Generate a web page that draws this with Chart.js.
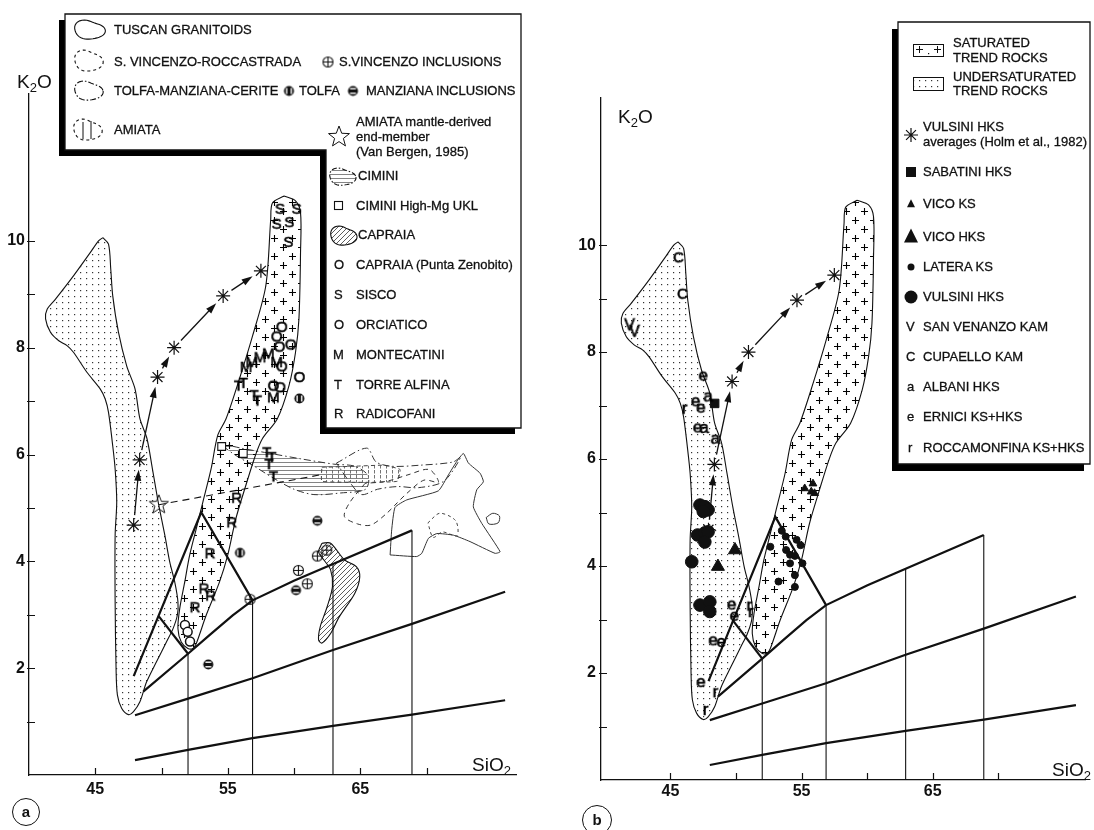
<!DOCTYPE html>
<html>
<head>
<meta charset="utf-8">
<title>K2O vs SiO2</title>
<script src="https://cdn.jsdelivr.net/npm/chart.js@4.4.0/dist/chart.umd.min.js"></script>
<style>
  body { margin: 0; background: #fff; }
  #wrap { position: relative; width: 1094px; height: 830px; overflow: hidden; font-family: "Liberation Sans", Arial, sans-serif; color: #111; }
  .pane { position: absolute; top: 0; height: 830px; }
  #paneA { left: 0; width: 545px; }
  #paneB { left: 545px; width: 549px; }
  .t { position: absolute; font-size: 13px; line-height: 14px; white-space: nowrap; transform: translateY(-50%); pointer-events: none; -webkit-text-stroke: 0.3px #111; }
  .ax { position: absolute; font-size: 19px; line-height: 20px; white-space: nowrap; transform: translateY(-50%); pointer-events: none; }
  .ax sub { font-size: 13px; vertical-align: -4px; line-height: 0; }
  .tag { position: absolute; border: 1.4px solid #111; border-radius: 50%; font-weight: bold; font-size: 15px; text-align: center; box-sizing: border-box; }
</style>
</head>
<body>
<div id="wrap">
  <div class="pane" id="paneA"><canvas id="chartA"></canvas></div>
  <div class="pane" id="paneB"><canvas id="chartB"></canvas></div>

  <!-- panel a texts -->
  <div class="ax" style="left:17px;top:82px">K<sub>2</sub>O</div>
  <div class="ax" style="left:472px;top:765px">SiO<sub>2</sub></div>
  <div class="tag" style="left:12px;top:798px;width:28px;height:28px;line-height:25px">a</div>

  <div class="t" style="left:114px;top:30px">TUSCAN GRANITOIDS</div>
  <div class="t" style="left:114px;top:62px">S. VINCENZO-ROCCASTRADA</div>
  <div class="t" style="left:339px;top:62px">S.VINCENZO INCLUSIONS</div>
  <div class="t" style="left:114px;top:91px">TOLFA-MANZIANA-CERITE</div>
  <div class="t" style="left:299px;top:91px">TOLFA</div>
  <div class="t" style="left:366px;top:91px">MANZIANA INCLUSIONS</div>
  <div class="t" style="left:114px;top:130px">AMIATA</div>
  <div class="t" style="left:356px;top:122px">AMIATA mantle-derived</div>
  <div class="t" style="left:356px;top:137px">end-member</div>
  <div class="t" style="left:356px;top:152px">(Van Bergen, 1985)</div>
  <div class="t" style="left:358px;top:176px">CIMINI</div>
  <div class="t" style="left:356px;top:206px">CIMINI High-Mg UKL</div>
  <div class="t" style="left:358px;top:235px">CAPRAIA</div>
  <div class="t" style="left:334px;top:265px">O</div>
  <div class="t" style="left:356px;top:265px">CAPRAIA (Punta Zenobito)</div>
  <div class="t" style="left:334px;top:295px">S</div>
  <div class="t" style="left:356px;top:295px">SISCO</div>
  <div class="t" style="left:334px;top:325px">O</div>
  <div class="t" style="left:356px;top:325px">ORCIATICO</div>
  <div class="t" style="left:333px;top:355px">M</div>
  <div class="t" style="left:356px;top:355px">MONTECATINI</div>
  <div class="t" style="left:334px;top:385px">T</div>
  <div class="t" style="left:356px;top:385px">TORRE ALFINA</div>
  <div class="t" style="left:334px;top:414px">R</div>
  <div class="t" style="left:356px;top:414px">RADICOFANI</div>

  <!-- panel b texts -->
  <div class="ax" style="left:618px;top:117px">K<sub>2</sub>O</div>
  <div class="ax" style="left:1052px;top:770px">SiO<sub>2</sub></div>
  <div class="tag" style="left:582px;top:805px;width:30px;height:30px;line-height:27px">b</div>

  <div class="t" style="left:953px;top:43px">SATURATED</div>
  <div class="t" style="left:953px;top:58px">TREND ROCKS</div>
  <div class="t" style="left:953px;top:77px">UNDERSATURATED</div>
  <div class="t" style="left:953px;top:91px">TREND ROCKS</div>
  <div class="t" style="left:923px;top:127px">VULSINI HKS</div>
  <div class="t" style="left:923px;top:142px">averages (Holm et al., 1982)</div>
  <div class="t" style="left:923px;top:172px">SABATINI HKS</div>
  <div class="t" style="left:923px;top:204px">VICO KS</div>
  <div class="t" style="left:923px;top:237px">VICO HKS</div>
  <div class="t" style="left:923px;top:267px">LATERA KS</div>
  <div class="t" style="left:923px;top:297px">VULSINI HKS</div>
  <div class="t" style="left:906px;top:327px">V</div>
  <div class="t" style="left:923px;top:327px">SAN VENANZO KAM</div>
  <div class="t" style="left:906px;top:357px">C</div>
  <div class="t" style="left:923px;top:357px">CUPAELLO KAM</div>
  <div class="t" style="left:907px;top:387px">a</div>
  <div class="t" style="left:923px;top:387px">ALBANI HKS</div>
  <div class="t" style="left:907px;top:417px">e</div>
  <div class="t" style="left:923px;top:417px">ERNICI KS+HKS</div>
  <div class="t" style="left:908px;top:448px">r</div>
  <div class="t" style="left:923px;top:448px">ROCCAMONFINA KS+HKS</div>
</div>

<script>
// axis ticks (SiO2 wt%, K2O wt%)
const xTicks = [45, 50, 55, 60, 65, 70];
const xTickLabels = [45, 55, 65];
const yTicks = [1, 2, 3, 4, 5, 6, 7, 8, 9, 10];
const yTickLabels = [2, 4, 6, 8, 10];

// trend fields, shared by both panels: [SiO2, K2O]
const underSatField = [
  [45.57, 10.06], [46.0, 9.94], [46.17, 9.47], [46.32, 8.97], [46.75, 8.29], [47.37, 7.66],
  [48.0, 7.23], [48.37, 6.67], [48.9, 6.3], [49.3, 5.75], [49.75, 5.11], [50.25, 4.49],
  [50.62, 3.99], [51.0, 3.61], [51.24, 3.24], [51.2, 3.0], [50.87, 2.74], [50.37, 2.49],
  [49.62, 2.12], [48.87, 1.74], [48.37, 1.37], [47.87, 1.18], [47.5, 1.13], [46.99, 1.25],
  [46.67, 1.5], [46.57, 1.99], [46.5, 3.24], [46.5, 4.49], [46.62, 5.11], [46.5, 5.73],
  [46.3, 6.2], [46.0, 6.79], [45.75, 7.04], [45.37, 7.23], [44.37, 7.54], [43.37, 7.91],
  [42.87, 8.04], [42.25, 8.13], [41.62, 8.29], [41.25, 8.54], [41.37, 8.72], [42.0, 8.91],
  [43.37, 9.35], [44.62, 9.78], [45.25, 10.0]
];
const satField = [
  [59.24, 10.84], [60.11, 10.75], [60.49, 10.53], [60.49, 9.78], [60.37, 8.54], [60.11, 7.91],
  [59.62, 7.29], [58.74, 6.67], [57.62, 6.3], [57.11, 6.0], [56.36, 5.42], [55.61, 4.8],
  [54.99, 4.11], [54.37, 3.61], [53.37, 2.99], [52.62, 2.46], [52.37, 2.37], [51.99, 2.37],
  [51.49, 2.49], [51.24, 2.74], [51.37, 3.11], [51.75, 3.61], [52.12, 4.11], [52.62, 4.61],
  [53.12, 5.11], [53.74, 5.73], [54.24, 6.36], [54.87, 6.67], [55.87, 7.41], [56.87, 8.22],
  [57.87, 9.16], [58.24, 10.4], [58.37, 10.71]
];

// K2O-SiO2 classification grid
const gridUpper = [[48.62, 1.56], [52.0, 2.27], [53.62, 2.62], [55.37, 2.99], [56.87, 3.27], [60.03, 3.64], [62.94, 3.95], [68.9, 4.58]];
const gridMiddle = [[48.0, 1.12], [52.0, 1.43], [56.87, 1.81], [62.94, 2.34], [68.9, 2.83], [75.93, 3.43]];
const gridLower = [[48.0, 0.28], [52.0, 0.47], [56.87, 0.69], [62.94, 0.92], [68.9, 1.13], [75.93, 1.40]];
const gridWedge = [[47.9, 1.85], [53.0, 4.92], [56.87, 3.27]];
const gridWedgeBase = [[49.8, 2.97], [52.0, 2.27]];
const dividerSiO2 = [52.0, 56.87, 62.94, 68.9];
const dividerTopK2O = [2.27, 3.27, 3.95, 4.58];

// Vulsini HKS averages (Holm et al., 1982)
const vulsiniAverages = [[47.9, 4.68], [48.35, 5.9], [49.7, 7.45], [50.95, 8.0], [54.65, 8.97], [57.5, 9.44]];

// panel a: Tuscan province
const siscoPts = [[58.94, 10.61], [60.2, 10.61], [58.69, 10.33], [59.64, 10.36], [59.57, 9.99]];
const orciaticoPts = [[59.07, 8.4], [58.69, 8.22], [58.89, 8.03], [59.75, 8.07], [59.07, 7.66], [58.44, 7.3], [58.94, 7.27], [60.4, 7.46]];
const montecatiniPts = [[56.38, 7.65], [56.81, 7.74], [57.43, 7.83], [58.06, 7.9], [58.69, 7.74], [58.44, 7.08]];
const torreAlfinaPts = [[55.8, 7.3], [56.17, 7.35], [56.98, 7.12], [57.23, 7.02], [57.94, 6.05], [58.32, 5.96], [58.1, 5.83], [58.44, 5.6]];
const radicofaniPts = [[55.67, 5.2], [55.3, 4.74], [53.66, 4.16], [53.21, 3.5], [53.71, 3.37], [52.53, 3.15]];
const zenobitoPts = [[51.77, 2.81], [51.97, 2.68], [52.15, 2.5]];
const ciminiUklPts = [[54.54, 6.15], [56.17, 6.02]];
const vincenzoInclPts = [[62.47, 4.21], [61.76, 4.1], [60.33, 3.83], [61.0, 3.58], [56.68, 3.29]];
const tolfaPts = [[55.92, 4.16], [60.4, 7.05]];
const manzianaInclPts = [[61.76, 4.76], [60.15, 3.46], [53.53, 2.07]];
const amiataEndMember = [[49.8, 5.06]];
const amiataTieLine = [[49.8, 5.06], [62.0, 5.62]];
const capraiaField = [[62.11, 4.34], [62.76, 4.34], [63.8, 4.03], [64.7, 3.9], [64.96, 3.71], [64.58, 3.4], [63.41, 2.96], [62.76, 2.65], [62.11, 2.47], [61.85, 2.53], [61.98, 2.78], [62.5, 3.15], [62.9, 3.53], [62.76, 3.84], [62.24, 4.03], [61.85, 4.18]];
const tuscanField = [[67.25, 4.12], [67.37, 4.59], [67.62, 5.01], [68.5, 5.15], [70.89, 5.32], [71.65, 5.62], [72.28, 5.87], [72.78, 6.02], [73.16, 5.84], [74.04, 5.65], [74.29, 5.49], [73.79, 5.34], [73.53, 5.02], [74.17, 4.71], [75.55, 4.18], [75.17, 4.15], [73.28, 4.37], [72.03, 4.49], [70.77, 4.52], [70.14, 4.43], [69.64, 4.15], [69.26, 4.09]];
const tuscanSmall = [[74.5, 4.82], [75.0, 4.9], [75.5, 4.85], [75.4, 4.72], [74.7, 4.7]];
const vincenzoField = [[65.36, 5.46], [64.2, 5.1], [63.8, 4.84], [64.8, 4.7], [65.8, 4.68], [67.0, 4.9], [67.8, 5.1], [68.5, 5.27], [69.8, 5.52], [70.9, 5.48], [70.2, 5.72], [68.6, 5.62], [67.0, 5.5]];
const vincenzoSmall = [[70.1, 4.72], [71.0, 4.9], [72.2, 4.76], [72.3, 4.48], [71.2, 4.55], [70.5, 4.45]];
const tolfaField = [[63.2, 5.84], [65.48, 6.12], [66.2, 5.86], [67.4, 5.78], [69.5, 5.8], [72.0, 5.86], [72.6, 5.96], [71.3, 5.5], [69.4, 5.38], [67.8, 5.4], [66.3, 5.35], [65.1, 5.25], [64.3, 5.45]];
const ciminiField = [[54.3, 6.22], [56.0, 6.12], [58.0, 6.03], [60.5, 5.92], [63.0, 5.82], [64.6, 5.78], [65.6, 5.6], [65.4, 5.35], [63.5, 5.28], [61.5, 5.25], [60.0, 5.35], [58.5, 5.55], [57.0, 5.78], [55.5, 6.0]];
const amiataField = [[62.1, 5.76], [64.5, 5.78], [66.8, 5.8], [68.0, 5.72], [67.8, 5.5], [65.5, 5.48], [62.1, 5.5]];

// panel b: Roman province
const cupaelloPts = [[45.62, 9.78], [45.92, 9.1]];
const venanzoPts = [[41.87, 8.5], [42.25, 8.38]];
const erniciPts = [[47.5, 7.57], [46.92, 7.09], [47.32, 6.97], [47.07, 6.6], [49.67, 3.29], [49.87, 3.08], [48.25, 2.62], [48.87, 2.59], [47.32, 1.84]];
const albaniPts = [[47.87, 7.18], [47.57, 6.59], [48.42, 6.39]];
const roccamonfinaPts = [[46.07, 6.95], [51.0, 3.27], [51.12, 3.15], [48.42, 1.65], [47.67, 1.32]];
const sabatiniPts = [[48.37, 7.04]];
const vicoKsPts = [[55.87, 5.54], [55.24, 5.45], [55.74, 5.39], [55.99, 5.36]];
const vicoHksPts = [[49.92, 4.3], [48.62, 3.99]];
const lateraPts = [[53.49, 4.66], [53.79, 4.55], [54.62, 4.49], [54.92, 4.39], [52.62, 4.36], [53.82, 4.3], [54.12, 4.21], [54.49, 4.19], [54.12, 4.05], [55.07, 4.05], [54.49, 3.83], [53.24, 3.71], [54.49, 3.61]];
const vulsiniHksPts = [[47.25, 5.14], [47.62, 5.11], [47.87, 5.05], [47.5, 5.02], [47.07, 4.58], [47.62, 4.62], [47.87, 4.64], [47.62, 4.45], [46.62, 4.08], [47.25, 3.27], [48.0, 3.33], [48.0, 3.15]];

// ---------- fills and marker glyphs ----------
function tile(w, h, paint) {
  const c = document.createElement('canvas');
  c.width = w; c.height = h;
  const g = c.getContext('2d');
  paint(g);
  return g.createPattern(c, 'repeat');
}
const dotFill = tile(6, 6, g => { g.fillStyle = '#333'; g.fillRect(2, 2, 1.2, 1.2); });
const crossFill = tile(18, 18, g => {
  g.strokeStyle = '#000'; g.lineWidth = 1.1;
  [[4.5, 4.5], [13.5, 13.5]].forEach(([cx, cy]) => {
    g.beginPath();
    g.moveTo(cx - 3.5, cy); g.lineTo(cx + 3.5, cy);
    g.moveTo(cx, cy - 3.5); g.lineTo(cx, cy + 3.5);
    g.stroke();
  });
});
const hatchFill = tile(5, 5, g => {
  g.strokeStyle = '#333'; g.lineWidth = 0.8;
  g.beginPath(); g.moveTo(-1, 6); g.lineTo(6, -1); g.stroke();
});
const ciminiFill = tile(6, 4, g => { g.fillStyle = '#666'; g.fillRect(0, 2, 6, 0.8); });
const amiataFill = tile(6, 5, g => { g.fillStyle = '#666'; g.fillRect(2, 0, 0.9, 3.5); });

function glyph(w, h, paint) {
  const c = document.createElement('canvas');
  c.width = w; c.height = h;
  paint(c.getContext('2d'), w / 2, h / 2);
  return c;
}
function letter(ch, size) {
  return glyph(size + 6, size + 8, (g, cx, cy) => {
    g.font = size + 'px "Liberation Sans", Arial, sans-serif';
    g.fillStyle = '#000'; g.strokeStyle = '#000'; g.lineWidth = 0.6;
    g.textAlign = 'center'; g.textBaseline = 'middle';
    g.fillText(ch, cx, cy + 1);
    g.strokeText(ch, cx, cy + 1);
  });
}
const circlePlus = glyph(13, 13, (g, cx, cy) => {
  g.strokeStyle = '#111'; g.lineWidth = 1.1;
  g.beginPath(); g.arc(cx, cy, 5, 0, Math.PI * 2);
  g.moveTo(cx - 5, cy); g.lineTo(cx + 5, cy); g.moveTo(cx, cy - 5); g.lineTo(cx, cy + 5);
  g.stroke();
});
const tolfaMark = glyph(13, 13, (g, cx, cy) => {
  g.fillStyle = '#111'; g.beginPath(); g.arc(cx, cy, 5, 0, Math.PI * 2); g.fill();
  g.fillStyle = '#fff'; g.fillRect(cx - 3, cy - 3, 1.4, 6); g.fillRect(cx + 1.6, cy - 3, 1.4, 6);
});
const manzianaMark = glyph(13, 13, (g, cx, cy) => {
  g.fillStyle = '#111'; g.beginPath(); g.arc(cx, cy, 5, 0, Math.PI * 2); g.fill();
  g.fillStyle = '#fff'; g.fillRect(cx - 3, cy - 3, 6, 1.4); g.fillRect(cx - 3, cy + 1.6, 6, 1.4);
});
function starOutline(r) {
  return glyph(2 * r + 4, 2 * r + 4, (g, cx, cy) => {
    g.strokeStyle = '#111'; g.lineWidth = 1; g.beginPath();
    for (let i = 0; i < 10; i++) {
      const a = -Math.PI / 2 + i * Math.PI / 5, rr = i % 2 ? r * 0.42 : r;
      const px = cx + Math.cos(a) * rr, py = cy + Math.sin(a) * rr;
      i ? g.lineTo(px, py) : g.moveTo(px, py);
    }
    g.closePath(); g.stroke();
  });
}
const amiataStar = starOutline(10);
const legendStar = starOutline(11);

// ---------- dataset builders ----------
const xy = list => list.map(([x, y]) => ({ x, y }));
function field(list, fillStyle, extra) {
  return Object.assign({
    type: 'line', data: xy(list.concat([list[0]])), borderColor: '#111', borderWidth: 1.1,
    pointRadius: 0, tension: 0.3, fill: fillStyle ? 'shape' : false,
    backgroundColor: fillStyle || 'rgba(0,0,0,0)'
  }, extra || {});
}
function path(list, width, extra) {
  return Object.assign({
    type: 'line', data: xy(list), borderColor: '#111', borderWidth: width,
    pointRadius: 0, tension: 0, fill: false
  }, extra || {});
}
function marks(list, style, extra) {
  return Object.assign({
    type: 'scatter', data: xy(list), pointStyle: style, pointRadius: 5,
    pointBackgroundColor: '#111', pointBorderColor: '#111', pointBorderWidth: 1
  }, extra || {});
}
function sharedLayers() {
  return [
    marks(vulsiniAverages, 'star', { pointRadius: 7, pointBorderWidth: 1.2 }),
    path(gridUpper, 2.2), path(gridMiddle, 2.2), path(gridLower, 2.2),
    path(gridWedge, 2.2), path(gridWedgeBase, 2.2),
    ...dividerSiO2.map((s, i) => path([[s, dividerTopK2O[i]], [s, 0]], 1.1)),
    field(satField, crossFill),
    field(underSatField, dotFill)
  ];
}

const datasetsA = [
  marks(siscoPts, letter('S', 15)),
  marks(orciaticoPts, letter('O', 15)),
  marks(montecatiniPts, letter('M', 15)),
  marks(torreAlfinaPts, letter('T', 15)),
  marks(radicofaniPts, letter('R', 15)),
  marks(zenobitoPts, 'circle', { pointRadius: 4.5, pointBackgroundColor: '#fff', pointBorderWidth: 1.5 }),
  marks(ciminiUklPts, 'rect', { pointRadius: 5.5, pointBackgroundColor: '#fff', pointBorderWidth: 1.1 }),
  marks(vincenzoInclPts, circlePlus),
  marks(tolfaPts, tolfaMark),
  marks(manzianaInclPts, manzianaMark),
  marks(amiataEndMember, amiataStar),
  ...sharedLayers(),
  path(amiataTieLine, 1.1, { borderDash: [7, 5] }),
  field(capraiaField, hatchFill),
  field(tuscanField, null, { borderColor: '#333', borderWidth: 1, tension: 0.15 }),
  field(tuscanSmall, null, { borderColor: '#333', borderWidth: 1 }),
  field(vincenzoField, null, { borderColor: '#333', borderWidth: 1, borderDash: [5, 4] }),
  field(vincenzoSmall, null, { borderColor: '#444', borderWidth: 1, borderDash: [3, 3] }),
  field(tolfaField, null, { borderColor: '#333', borderWidth: 1, borderDash: [7, 3, 1.5, 3] }),
  field(amiataField, amiataFill, { borderColor: '#444', borderWidth: 1, borderDash: [4, 3], tension: 0.1 }),
  field(ciminiField, ciminiFill, { borderColor: '#333', borderWidth: 1, borderDash: [7, 3, 1.5, 3] })
];

const datasetsB = [
  marks(cupaelloPts, letter('C', 15)),
  marks(venanzoPts, letter('V', 16)),
  marks(erniciPts, letter('e', 17)),
  marks(albaniPts, letter('a', 17)),
  marks(roccamonfinaPts, letter('r', 17)),
  marks(sabatiniPts, 'rect', { pointRadius: 6 }),
  marks(vicoKsPts, 'triangle', { pointRadius: 4.5 }),
  marks(vicoHksPts, 'triangle', { pointRadius: 7.5 }),
  marks(lateraPts, 'circle', { pointRadius: 3.5 }),
  marks(vulsiniHksPts, 'circle', { pointRadius: 6.3 }),
  ...sharedLayers()
];

// ---------- legends, inward ticks and arrows ----------
function blob(g, cx, cy, rx, ry, dash, fill) {
  g.save();
  g.beginPath();
  for (let i = 0; i <= 40; i++) {
    const t = i / 40 * Math.PI * 2;
    const k = 1 + 0.12 * Math.sin(2 * t + 0.8) + 0.08 * Math.cos(3 * t);
    const px = cx + Math.cos(t) * rx * k, py = cy + Math.sin(t) * ry * k;
    i ? g.lineTo(px, py) : g.moveTo(px, py);
  }
  g.closePath();
  if (fill) { g.fillStyle = fill; g.fill(); }
  g.setLineDash(dash); g.lineWidth = 1.1; g.strokeStyle = '#111'; g.stroke();
  g.restore();
}
function shadowBox(g, pts, dx, dy) {
  const trace = (ox, oy) => {
    g.beginPath();
    pts.forEach(([px, py], i) => i ? g.lineTo(px + ox, py + oy) : g.moveTo(px + ox, py + oy));
    g.closePath();
  };
  g.save();
  trace(dx, dy); g.fillStyle = '#000'; g.fill();
  trace(0, 0); g.fillStyle = '#fff'; g.fill();
  g.lineWidth = 1.3; g.strokeStyle = '#111'; g.stroke();
  g.restore();
}
function stamp(g, c, x, y) { g.drawImage(c, x - c.width / 2, y - c.height / 2); }

function legendA(g) {
  shadowBox(g, [[65, 14], [521, 14], [521, 428], [326, 428], [326, 150], [65, 150]], -6, 6);
  blob(g, 89, 30, 14, 10, []);
  blob(g, 88, 61, 13, 11, [3, 3]);
  blob(g, 88, 91, 13, 10, [6, 2, 1.5, 2]);
  blob(g, 87, 130, 13, 11, [3, 3]);
  g.save(); g.strokeStyle = '#111'; g.lineWidth = 1; g.beginPath();
  g.moveTo(83, 122); g.lineTo(83, 139); g.moveTo(91, 121); g.lineTo(91, 139); g.stroke(); g.restore();
  stamp(g, circlePlus, 328, 62);
  stamp(g, tolfaMark, 289, 91);
  stamp(g, manzianaMark, 353, 91);
  stamp(g, legendStar, 339, 137);
  blob(g, 342, 177, 12, 9, [5, 2, 1.5, 2], ciminiFill);
  g.save(); g.strokeStyle = '#111'; g.lineWidth = 1.1; g.strokeRect(334.5, 201.5, 8, 8); g.restore();
  blob(g, 343, 236, 12, 10, [], hatchFill);
}
function legendB(g) {
  shadowBox(g, [[353, 22], [545, 22], [545, 464], [353, 464]], -6, 7);
  g.save();
  g.strokeStyle = '#111'; g.lineWidth = 1;
  g.strokeRect(368.5, 44.5, 30, 12);
  g.beginPath();
  g.moveTo(371, 49.5); g.lineTo(378, 49.5); g.moveTo(374.5, 46); g.lineTo(374.5, 53);
  g.moveTo(389, 49.5); g.lineTo(396, 49.5); g.moveTo(392.5, 46); g.lineTo(392.5, 53);
  g.stroke();
  g.fillStyle = '#111'; g.fillRect(383, 53, 1.2, 1.2);
  g.fillStyle = dotFill; g.fillRect(369, 78, 29, 12);
  g.strokeRect(368.5, 77.5, 30, 13);
  // asterisk
  g.lineWidth = 1.2; g.beginPath();
  for (let i = 0; i < 4; i++) {
    const a = i * Math.PI / 4;
    g.moveTo(366 - Math.cos(a) * 7, 135 - Math.sin(a) * 7); g.lineTo(366 + Math.cos(a) * 7, 135 + Math.sin(a) * 7);
  }
  g.stroke();
  g.fillStyle = '#111';
  g.fillRect(361, 167, 10, 10);
  const tri = (cx, cy, s) => { g.beginPath(); g.moveTo(cx, cy - s * 0.6); g.lineTo(cx + s / 2, cy + s * 0.4); g.lineTo(cx - s / 2, cy + s * 0.4); g.closePath(); g.fill(); };
  tri(366, 204, 8); tri(366, 237, 14);
  g.beginPath(); g.arc(366, 267, 3.5, 0, Math.PI * 2); g.fill();
  g.beginPath(); g.arc(366, 297, 6.5, 0, Math.PI * 2); g.fill();
  g.restore();
}

const decor = {
  id: 'decor',
  afterDatasetsDraw(chart) {
    const { ctx, scales: { x, y } } = chart;
    ctx.save();
    ctx.strokeStyle = '#111'; ctx.fillStyle = '#111'; ctx.lineWidth = 1.3;
    for (let i = 0; i < vulsiniAverages.length - 1; i++) {
      const x0 = x.getPixelForValue(vulsiniAverages[i][0]), y0 = y.getPixelForValue(vulsiniAverages[i][1]);
      const x1 = x.getPixelForValue(vulsiniAverages[i + 1][0]), y1 = y.getPixelForValue(vulsiniAverages[i + 1][1]);
      const len = Math.hypot(x1 - x0, y1 - y0), ux = (x1 - x0) / len, uy = (y1 - y0) / len;
      const ex = x1 - ux * 10, ey = y1 - uy * 10;
      ctx.beginPath(); ctx.moveTo(x0 + ux * 10, y0 + uy * 10); ctx.lineTo(ex - ux * 6, ey - uy * 6); ctx.stroke();
      ctx.beginPath(); ctx.moveTo(ex, ey);
      ctx.lineTo(ex - ux * 11 - uy * 3.5, ey - uy * 11 + ux * 3.5);
      ctx.lineTo(ex - ux * 11 + uy * 3.5, ey - uy * 11 - ux * 3.5);
      ctx.closePath(); ctx.fill();
    }
    ctx.restore();
  },
  afterDraw(chart, args, opts) {
    const { ctx, chartArea: area, scales: { x, y } } = chart;
    ctx.save();
    ctx.strokeStyle = '#111'; ctx.lineWidth = 1.2; ctx.beginPath();
    xTicks.forEach(v => { const px = Math.round(x.getPixelForValue(v)) + 0.5; ctx.moveTo(px, area.bottom); ctx.lineTo(px, area.bottom - 7); });
    yTicks.forEach(v => { const py = Math.round(y.getPixelForValue(v)) + 0.5; ctx.moveTo(area.left - 2, py); ctx.lineTo(area.left + 6, py); });
    ctx.stroke();
    ctx.restore();
    if (opts.panel === 'a') legendA(ctx); else legendB(ctx);
  }
};

const tickFont = { family: '"Liberation Sans", Arial, sans-serif', size: 16, weight: 'bold' };

function makeChart(id, panel, datasets, geo) {
  return new Chart(document.getElementById(id), {
    type: 'scatter',
    data: { datasets },
    options: {
      responsive: true, maintainAspectRatio: false, animation: false, events: [], devicePixelRatio: 1,
      layout: { padding: geo.padding },
      plugins: { legend: { display: false }, tooltip: { enabled: false }, decor: { panel } },
      scales: {
        x: {
          type: 'linear', min: geo.xMin, max: geo.xMax,
          afterFit: s => { s.height = geo.xHeight; },
          afterBuildTicks: s => { s.ticks = xTicks.map(v => ({ value: v })); },
          grid: { display: false, drawTicks: false },
          border: { display: true, color: '#111', width: 1.3 },
          ticks: { callback: v => xTickLabels.includes(v) ? String(v) : '', font: tickFont, color: '#111', padding: geo.xPad, maxRotation: 0, autoSkip: false }
        },
        y: {
          type: 'linear', min: 0, max: 12.75,
          afterFit: s => { s.width = geo.yWidth; },
          afterBuildTicks: s => { s.ticks = yTicks.map(v => ({ value: v })); },
          grid: { display: false, drawTicks: false },
          border: { display: true, color: '#111', width: 1.3 },
          ticks: { callback: v => yTickLabels.includes(v) ? String(v) : '', font: tickFont, color: '#111', padding: geo.yPad, autoSkip: false }
        }
      }
    },
    plugins: [decor]
  });
}

makeChart('chartA', 'a', datasetsA, { padding: { left: 0, top: 94, right: 29, bottom: 0 }, yWidth: 29, xHeight: 55, xMin: 40, xMax: 76.75, yPad: 4, xPad: 5 });
makeChart('chartB', 'b', datasetsB, { padding: { left: 0, top: 98, right: 0, bottom: 0 }, yWidth: 56, xHeight: 50, xMin: 39.7, xMax: 76.66, yPad: 5, xPad: 2 });
</script>
</body>
</html>
